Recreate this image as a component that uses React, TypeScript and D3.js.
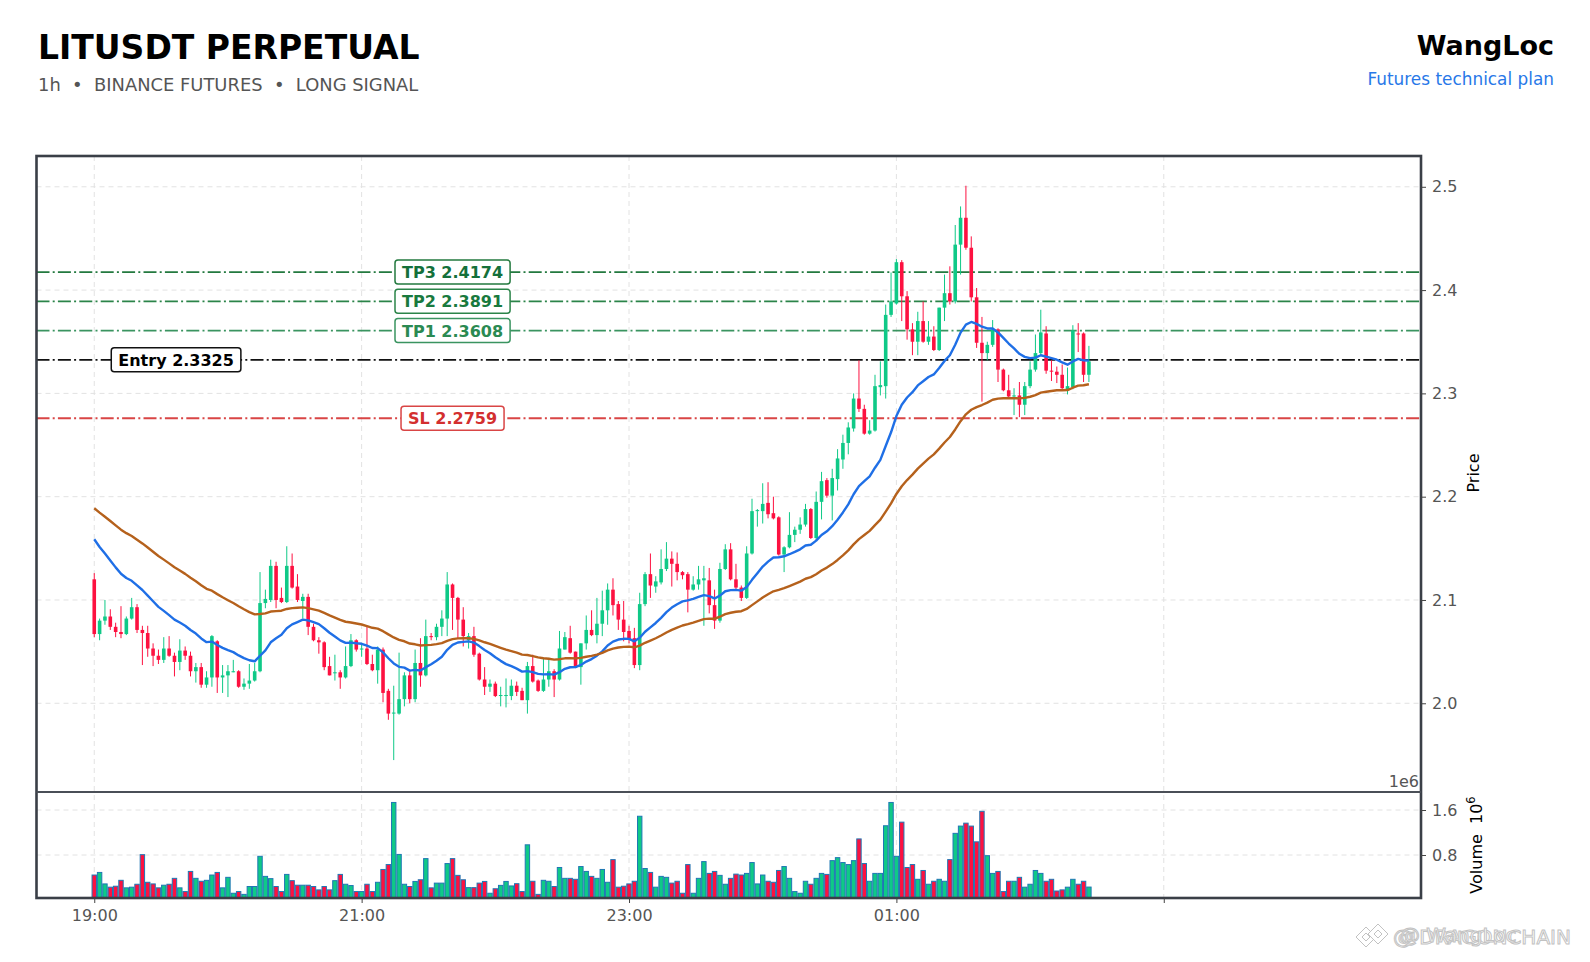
import React, { useEffect, useRef } from 'react';
import * as d3 from 'd3';

// candle data (index based x axis, like mplfinance)
const opens = [
  2.120, 2.067, 2.080, 2.084, 2.074, 2.069, 2.067, 2.082, 2.093, 2.071,
  2.068, 2.053, 2.046, 2.042, 2.053, 2.046, 2.040, 2.051, 2.046, 2.031,
  2.035, 2.018, 2.025, 2.060, 2.025, 2.027, 2.030, 2.031, 2.016, 2.019,
  2.022, 2.031, 2.097, 2.100, 2.133, 2.102, 2.098, 2.133, 2.113, 2.099,
  2.103, 2.074, 2.061, 2.059, 2.036, 2.029, 2.030, 2.025, 2.036, 2.061,
  2.052, 2.053, 2.038, 2.032, 2.052, 2.012, 1.990, 1.990, 2.004, 2.027,
  2.004, 2.039, 2.027, 2.065, 2.064, 2.074, 2.082, 2.115, 2.102, 2.081,
  2.061, 2.065, 2.048, 2.023, 2.016, 2.019, 2.007, 2.007, 2.007, 2.017,
  2.012, 2.003, 2.036, 2.022, 2.012, 2.023, 2.031, 2.023, 2.052, 2.063,
  2.050, 2.035, 2.058, 2.071, 2.066, 2.077, 2.090, 2.110, 2.096, 2.081,
  2.070, 2.063, 2.037, 2.096, 2.125, 2.113, 2.117, 2.130, 2.140, 2.135,
  2.127, 2.125, 2.110, 2.115, 2.119, 2.119, 2.095, 2.080, 2.130, 2.149,
  2.120, 2.112, 2.102, 2.145, 2.186, 2.186, 2.194, 2.184, 2.180, 2.144,
  2.151, 2.163, 2.168, 2.173, 2.188, 2.160, 2.195, 2.216, 2.201, 2.217,
  2.236, 2.252, 2.266, 2.295, 2.285, 2.261, 2.264, 2.306, 2.307, 2.376,
  2.387, 2.427, 2.394, 2.362, 2.350, 2.370, 2.350, 2.355, 2.342, 2.383,
  2.397, 2.389, 2.444, 2.470, 2.441, 2.393, 2.349, 2.339, 2.347, 2.362,
  2.323, 2.303, 2.297, 2.298, 2.289, 2.307, 2.323, 2.339, 2.358, 2.322,
  2.321, 2.318, 2.304, 2.306, 2.358, 2.358, 2.318,
];
const highs = [
  2.126, 2.082, 2.100, 2.091, 2.078, 2.094, 2.084, 2.102, 2.096, 2.075,
  2.075, 2.058, 2.052, 2.064, 2.065, 2.049, 2.062, 2.055, 2.050, 2.039,
  2.039, 2.031, 2.066, 2.061, 2.037, 2.037, 2.042, 2.032, 2.024, 2.038,
  2.039, 2.127, 2.110, 2.139, 2.137, 2.112, 2.152, 2.145, 2.125, 2.106,
  2.106, 2.077, 2.064, 2.060, 2.045, 2.047, 2.032, 2.055, 2.067, 2.062,
  2.058, 2.075, 2.047, 2.055, 2.054, 2.014, 2.017, 2.049, 2.030, 2.032,
  2.052, 2.063, 2.081, 2.068, 2.077, 2.090, 2.127, 2.116, 2.103, 2.093,
  2.068, 2.074, 2.049, 2.035, 2.023, 2.021, 2.016, 2.024, 2.023, 2.021,
  2.015, 2.040, 2.047, 2.023, 2.044, 2.044, 2.033, 2.070, 2.069, 2.075,
  2.050, 2.058, 2.085, 2.090, 2.102, 2.109, 2.116, 2.121, 2.099, 2.099,
  2.075, 2.073, 2.107, 2.127, 2.145, 2.123, 2.149, 2.156, 2.147, 2.146,
  2.128, 2.127, 2.123, 2.133, 2.133, 2.131, 2.110, 2.136, 2.154, 2.155,
  2.135, 2.114, 2.152, 2.198, 2.188, 2.213, 2.214, 2.200, 2.181, 2.152,
  2.185, 2.171, 2.180, 2.193, 2.189, 2.205, 2.224, 2.218, 2.227, 2.246,
  2.260, 2.272, 2.300, 2.332, 2.289, 2.274, 2.318, 2.331, 2.386, 2.417,
  2.430, 2.429, 2.399, 2.368, 2.379, 2.389, 2.370, 2.365, 2.383, 2.415,
  2.423, 2.463, 2.481, 2.501, 2.452, 2.402, 2.374, 2.350, 2.371, 2.363,
  2.324, 2.318, 2.305, 2.311, 2.311, 2.331, 2.357, 2.381, 2.365, 2.332,
  2.326, 2.328, 2.325, 2.366, 2.368, 2.359, 2.346,
];
const lows = [
  2.064, 2.061, 2.076, 2.071, 2.064, 2.063, 2.066, 2.081, 2.068, 2.037,
  2.045, 2.036, 2.038, 2.039, 2.045, 2.026, 2.032, 2.042, 2.026, 2.020,
  2.015, 2.015, 2.016, 2.010, 2.010, 2.006, 2.030, 2.015, 2.013, 2.014,
  2.021, 2.030, 2.092, 2.098, 2.092, 2.097, 2.097, 2.111, 2.098, 2.082,
  2.066, 2.060, 2.048, 2.032, 2.027, 2.022, 2.014, 2.024, 2.035, 2.050,
  2.045, 2.037, 2.031, 2.019, 2.001, 1.984, 1.945, 1.989, 1.997, 2.000,
  2.001, 2.016, 2.026, 2.061, 2.061, 2.065, 2.065, 2.071, 2.063, 2.055,
  2.053, 2.045, 2.022, 2.008, 2.011, 2.006, 1.997, 1.996, 2.003, 2.007,
  2.003, 1.990, 2.020, 2.011, 2.011, 2.016, 2.006, 2.022, 2.052, 2.048,
  2.034, 2.018, 2.052, 2.065, 2.058, 2.065, 2.076, 2.085, 2.071, 2.060,
  2.058, 2.034, 2.032, 2.094, 2.102, 2.107, 2.115, 2.128, 2.113, 2.119,
  2.120, 2.088, 2.109, 2.110, 2.075, 2.087, 2.072, 2.078, 2.129, 2.119,
  2.110, 2.099, 2.101, 2.144, 2.171, 2.174, 2.179, 2.178, 2.143, 2.127,
  2.150, 2.156, 2.164, 2.171, 2.159, 2.158, 2.178, 2.199, 2.177, 2.206,
  2.227, 2.241, 2.263, 2.282, 2.260, 2.260, 2.263, 2.298, 2.295, 2.374,
  2.386, 2.370, 2.352, 2.337, 2.337, 2.349, 2.347, 2.341, 2.341, 2.370,
  2.386, 2.387, 2.415, 2.439, 2.389, 2.344, 2.292, 2.332, 2.345, 2.311,
  2.302, 2.295, 2.279, 2.277, 2.279, 2.305, 2.321, 2.337, 2.319, 2.312,
  2.310, 2.304, 2.299, 2.304, 2.340, 2.311, 2.311,
];
const closes = [
  2.067, 2.080, 2.084, 2.074, 2.069, 2.067, 2.082, 2.093, 2.071, 2.068,
  2.053, 2.046, 2.042, 2.053, 2.046, 2.040, 2.051, 2.046, 2.031, 2.035,
  2.018, 2.025, 2.065, 2.025, 2.027, 2.031, 2.031, 2.016, 2.019, 2.022,
  2.031, 2.097, 2.101, 2.133, 2.100, 2.098, 2.133, 2.112, 2.100, 2.103,
  2.074, 2.061, 2.059, 2.035, 2.027, 2.030, 2.025, 2.036, 2.061, 2.052,
  2.053, 2.038, 2.032, 2.052, 2.010, 1.990, 1.991, 2.004, 2.027, 2.004,
  2.039, 2.027, 2.065, 2.064, 2.074, 2.082, 2.115, 2.102, 2.081, 2.065,
  2.065, 2.047, 2.023, 2.016, 2.019, 2.007, 2.008, 2.008, 2.017, 2.011,
  2.003, 2.036, 2.021, 2.012, 2.023, 2.031, 2.023, 2.053, 2.064, 2.049,
  2.036, 2.058, 2.071, 2.066, 2.077, 2.090, 2.110, 2.095, 2.081, 2.069,
  2.062, 2.037, 2.096, 2.125, 2.114, 2.118, 2.130, 2.140, 2.135, 2.127,
  2.124, 2.110, 2.115, 2.120, 2.121, 2.095, 2.080, 2.130, 2.149, 2.120,
  2.112, 2.102, 2.145, 2.186, 2.187, 2.193, 2.183, 2.179, 2.144, 2.151,
  2.163, 2.168, 2.173, 2.188, 2.160, 2.195, 2.215, 2.201, 2.218, 2.237,
  2.252, 2.267, 2.295, 2.285, 2.261, 2.264, 2.307, 2.308, 2.376, 2.389,
  2.427, 2.394, 2.362, 2.350, 2.370, 2.350, 2.355, 2.342, 2.383, 2.397,
  2.389, 2.444, 2.470, 2.441, 2.393, 2.349, 2.339, 2.347, 2.362, 2.323,
  2.303, 2.297, 2.298, 2.289, 2.307, 2.323, 2.339, 2.359, 2.322, 2.321,
  2.318, 2.305, 2.307, 2.361, 2.357, 2.318, 2.331,
];
// volume in units of 1e6
const volumes = [
  0.444, 0.490, 0.286, 0.228, 0.245, 0.350, 0.216, 0.228, 0.280, 0.806,
  0.315, 0.286, 0.216, 0.263, 0.280, 0.385, 0.216, 0.150, 0.508, 0.385,
  0.333, 0.350, 0.444, 0.490, 0.216, 0.403, 0.120, 0.150, 0.100, 0.240,
  0.240, 0.777, 0.420, 0.380, 0.240, 0.150, 0.455, 0.344, 0.263, 0.263,
  0.263, 0.240, 0.180, 0.240, 0.180, 0.344, 0.455, 0.280, 0.257, 0.150,
  0.150, 0.280, 0.150, 0.315, 0.543, 0.630, 1.734, 0.810, 0.280, 0.240,
  0.330, 0.360, 0.736, 0.216, 0.300, 0.300, 0.648, 0.736, 0.438, 0.360,
  0.220, 0.220, 0.300, 0.330, 0.120, 0.200, 0.260, 0.330, 0.250, 0.290,
  0.150, 0.981, 0.333, 0.100, 0.350, 0.333, 0.240, 0.578, 0.385, 0.385,
  0.368, 0.595, 0.508, 0.420, 0.385, 0.543, 0.315, 0.718, 0.228, 0.245,
  0.286, 0.333, 1.489, 0.560, 0.490, 0.228, 0.420, 0.403, 0.300, 0.333,
  0.120, 0.630, 0.120, 0.385, 0.683, 0.473, 0.508, 0.438, 0.280, 0.385,
  0.460, 0.444, 0.473, 0.666, 0.286, 0.444, 0.333, 0.315, 0.525, 0.595,
  0.385, 0.150, 0.120, 0.333, 0.280, 0.385, 0.473, 0.455, 0.700, 0.753,
  0.666, 0.630, 0.700, 1.086, 0.648, 0.333, 0.473, 0.473, 1.320, 1.734,
  0.777, 1.384, 0.578, 0.630, 0.368, 0.525, 0.280, 0.333, 0.368, 0.333,
  0.718, 1.185, 1.314, 1.366, 1.314, 1.034, 1.577, 0.788, 0.473, 0.508,
  0.150, 0.333, 0.333, 0.403, 0.228, 0.280, 0.525, 0.473, 0.333, 0.368,
  0.160, 0.180, 0.228, 0.368, 0.280, 0.333, 0.230,
];

const tickIndex = [0, 50, 100, 150, 200];
const tickLabels = ['19:00', '21:00', '23:00', '01:00', ''];
const priceTicks = [2.0, 2.1, 2.2, 2.3, 2.4, 2.5];
const volumeTicks = [0.8, 1.6];

const levelNames = ['TP3', 'TP2', 'TP1', 'Entry', 'SL'];
const levelValues = [2.4174, 2.3891, 2.3608, 2.3325, 2.2759];

// moving averages carried over from the bars before the window
const emaPeriods = [20, 50];
const emaStart = [2.1588, 2.1888];

// styling
const W = 1590;
const H = 962;
const plotL = 36.5;
const plotR = 1421;
const priceTop = 156;
const priceBottom = 792;
const volBottom = 898;
const FONT = 'DejaVu Sans, sans-serif';
const UP = '#0fc987';
const DOWN = '#fd1140';
const levelLine = ['#23793f', '#2b8449', '#3a9460', '#111111', '#d94545'];
const levelText = ['#14703a', '#197a3e', '#2a8a52', '#000000', '#d32f2f'];
const levelAt = [67, 67, 67, 15.3, 67];
const emaColors = ['#1f6fe6', '#b5611c'];

const ema = (vals: number[], period: number, start: number) => {
  const k = 2 / (period + 1);
  const out: number[] = [];
  vals.forEach((v, i) => {
    out.push(i === 0 ? start : out[i - 1] + k * (v - out[i - 1]));
  });
  return out;
};

const App = () => {
  const svgRef = useRef(null);

  useEffect(() => {
    document.body.style.margin = '0';
    const svg = d3.select(svgRef.current);
    svg.selectAll('*').remove();

    const x = d3.scaleLinear().domain([-10.8, 248.1]).range([plotL, plotR]);
    const y = d3.scaleLinear().domain([1.9141, 2.5298]).range([priceBottom, priceTop]);
    const yv = d3.scaleLinear().domain([0.0356, 1.92]).range([volBottom, priceBottom]);
    const idx = d3.range(closes.length);

    svg.append('rect').attr('width', W).attr('height', H).attr('fill', '#fff');

    const defs = svg.append('defs');
    defs.append('clipPath').attr('id', 'clipPrice').append('rect')
      .attr('x', plotL).attr('y', priceTop).attr('width', plotR - plotL).attr('height', priceBottom - priceTop);
    defs.append('clipPath').attr('id', 'clipVol').append('rect')
      .attr('x', plotL).attr('y', priceBottom).attr('width', plotR - plotL).attr('height', volBottom - priceBottom);

    // header
    svg.append('text').attr('x', 38).attr('y', 59).attr('font-family', FONT)
      .attr('font-weight', 'bold').attr('font-size', 33).attr('fill', '#000').text('LITUSDT PERPETUAL');
    svg.append('text').attr('x', 38).attr('y', 91).attr('font-family', FONT)
      .attr('font-size', 17.9).attr('fill', '#555').attr('xml:space', 'preserve')
      .style('white-space', 'pre').text('1h  \u2022  BINANCE FUTURES  \u2022  LONG SIGNAL');
    svg.append('text').attr('x', 1554).attr('y', 55).attr('text-anchor', 'end').attr('font-family', FONT)
      .attr('font-weight', 'bold').attr('font-size', 27).attr('fill', '#000').text('WangLoc');
    svg.append('text').attr('x', 1554).attr('y', 85).attr('text-anchor', 'end').attr('font-family', FONT)
      .attr('font-size', 16.9).attr('fill', '#2878e8').text('Futures technical plan');

    // grid
    const grid = svg.append('g').attr('stroke', '#e2e2e2').attr('stroke-width', 1).attr('stroke-dasharray', '5,4');
    priceTicks.forEach((p) => {
      grid.append('line').attr('x1', plotL).attr('x2', plotR).attr('y1', y(p)).attr('y2', y(p));
    });
    volumeTicks.forEach((v) => {
      grid.append('line').attr('x1', plotL).attr('x2', plotR).attr('y1', yv(v)).attr('y2', yv(v));
    });
    tickIndex.forEach((t) => {
      grid.append('line').attr('x1', x(t)).attr('x2', x(t)).attr('y1', priceTop).attr('y2', volBottom);
    });

    // trade levels
    const lv = svg.append('g').attr('clip-path', 'url(#clipPrice)');
    levelValues.forEach((v, i) => {
      lv.append('line').attr('x1', plotL).attr('x2', plotR).attr('y1', y(v)).attr('y2', y(v))
        .attr('stroke', levelLine[i]).attr('stroke-width', 1.8).attr('stroke-dasharray', '13,3.2,2,3.2');
    });

    // candles
    const bw = 3.6;
    const cg = svg.append('g').attr('clip-path', 'url(#clipPrice)');
    idx.forEach((i) => {
      const up = closes[i] >= opens[i];
      const col = up ? UP : DOWN;
      cg.append('line').attr('x1', x(i)).attr('x2', x(i)).attr('y1', y(highs[i])).attr('y2', y(lows[i]))
        .attr('stroke', col).attr('stroke-width', 1);
      const top = y(Math.max(opens[i], closes[i]));
      const bot = y(Math.min(opens[i], closes[i]));
      cg.append('rect').attr('x', x(i) - bw / 2).attr('width', bw).attr('y', top)
        .attr('height', Math.max(1, bot - top)).attr('fill', col);
    });

    // moving averages
    emaPeriods.forEach((p, k) => {
      const vals = ema(closes, p, emaStart[k]);
      const line = d3.line<number>().x((_, i) => x(i)).y((d) => y(d));
      cg.append('path').attr('d', line(vals)).attr('fill', 'none')
        .attr('stroke', emaColors[k]).attr('stroke-width', 2.4).attr('stroke-linejoin', 'round');
    });

    // volume
    const vw = 4.4;
    const vg = svg.append('g').attr('clip-path', 'url(#clipVol)');
    idx.forEach((i) => {
      const up = closes[i] >= opens[i];
      vg.append('rect').attr('x', x(i) - vw / 2).attr('width', vw).attr('y', yv(volumes[i]))
        .attr('height', volBottom + 2 - yv(volumes[i])).attr('fill', up ? UP : DOWN)
        .attr('stroke', '#1f77b4').attr('stroke-width', 1);
    });

    // level labels
    levelValues.forEach((v, i) => {
      const g = svg.append('g');
      const t = g.append('text').attr('x', x(levelAt[i])).attr('y', y(v) + 6).attr('text-anchor', 'middle')
        .attr('font-family', FONT).attr('font-weight', 'bold').attr('font-size', 16)
        .attr('fill', levelText[i]).text(`${levelNames[i]} ${v.toFixed(4)}`);
      const tw = (t.node() as SVGTextElement).getComputedTextLength();
      g.insert('rect', 'text').attr('x', x(levelAt[i]) - tw / 2 - 7).attr('y', y(v) - 12)
        .attr('width', tw + 14).attr('height', 24).attr('rx', 3)
        .attr('fill', '#fff').attr('stroke', levelLine[i]).attr('stroke-width', 1.5);
    });

    // frame
    svg.append('rect').attr('x', plotL).attr('y', priceTop).attr('width', plotR - plotL)
      .attr('height', volBottom - priceTop).attr('fill', 'none').attr('stroke', '#3a3f47').attr('stroke-width', 2.6);
    svg.append('line').attr('x1', plotL).attr('x2', plotR).attr('y1', priceBottom).attr('y2', priceBottom)
      .attr('stroke', '#4a4f57').attr('stroke-width', 2);

    // axes
    const styleAxis = (g: any) => {
      g.select('.domain').remove();
      g.selectAll('line').attr('stroke', '#444');
      g.selectAll('text').attr('font-family', FONT).attr('font-size', 16).attr('fill', '#555');
    };
    svg.append('g').attr('transform', `translate(${plotR},0)`)
      .call(d3.axisRight(y).tickValues(priceTicks).tickSize(5).tickPadding(6).tickFormat(d3.format('.1f')))
      .call(styleAxis);
    svg.append('g').attr('transform', `translate(${plotR},0)`)
      .call(d3.axisRight(yv).tickValues(volumeTicks).tickSize(5).tickPadding(6).tickFormat(d3.format('.1f')))
      .call(styleAxis);
    svg.append('g').attr('transform', `translate(0,${volBottom})`)
      .call(d3.axisBottom(x).tickValues(tickIndex).tickSize(5).tickPadding(7)
        .tickFormat((_, i) => tickLabels[i]))
      .call(styleAxis);

    svg.append('text').attr('x', 1419).attr('y', 787).attr('text-anchor', 'end').attr('font-family', FONT)
      .attr('font-size', 16).attr('fill', '#555').text('1e6');
    svg.append('text').attr('transform', 'translate(1478.5,473) rotate(-90)').attr('text-anchor', 'middle')
      .attr('font-family', FONT).attr('font-size', 16).attr('fill', '#000').text('Price');
    const vl = svg.append('text').attr('transform', 'translate(1481.5,845) rotate(-90)').attr('text-anchor', 'middle')
      .attr('font-family', FONT).attr('font-size', 16).attr('fill', '#000').attr('xml:space', 'preserve')
      .style('white-space', 'pre');
    vl.append('tspan').text('Volume  10');
    vl.append('tspan').attr('dy', -7).attr('font-size', 11.5).text('6');

    // watermark (two stamps laid over each other, as in the source image)
    const wm = svg.append('g').attr('font-family', FONT).attr('font-size', 20).attr('fill', '#fff')
      .attr('stroke', '#c2c2c2').attr('stroke-width', 1);
    [[1366, 937], [1378, 934]].forEach(([cx, cy]) => {
      wm.append('path').attr('d', `M${cx},${cy - 10} L${cx + 10},${cy} L${cx},${cy + 10} L${cx - 10},${cy} Z`);
      wm.append('path').attr('d', `M${cx},${cy - 4} L${cx + 4},${cy} L${cx},${cy + 4} L${cx - 4},${cy} Z`);
    });
    wm.append('text').attr('x', 1393).attr('y', 944).text('@ DRAGONCHAIN');
    wm.append('text').attr('x', 1400).attr('y', 942).text('@ WangLoc');
  }, []);

  return <svg ref={svgRef} width={W} height={H} style={{ position: 'absolute', left: 0, top: 0 }}></svg>;
};

export default App;
